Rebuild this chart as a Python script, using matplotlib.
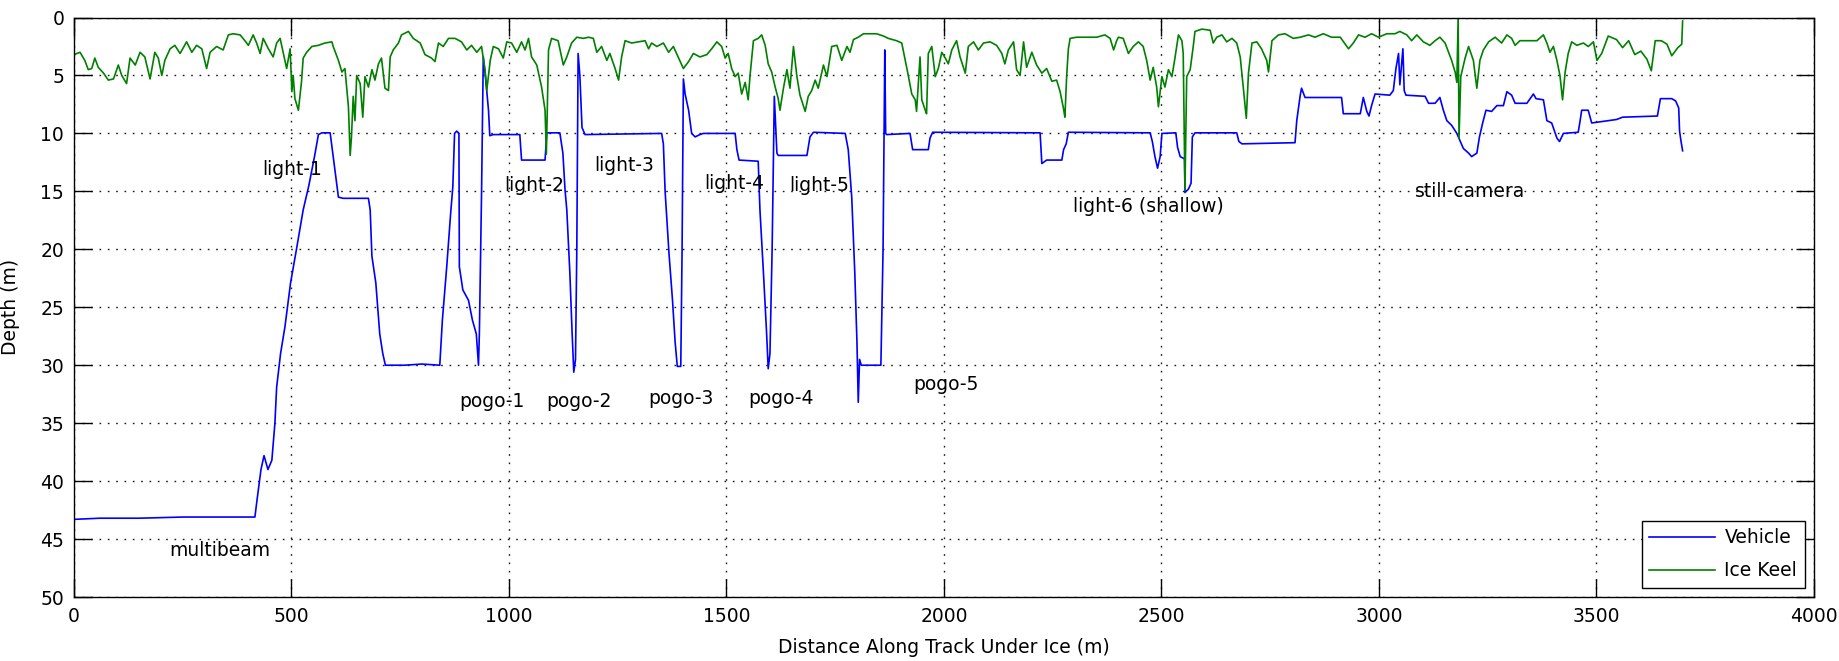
import matplotlib
matplotlib.use('Agg')
import matplotlib.pyplot as plt
import numpy as np

plt.rcParams['font.family'] = ['DejaVu Sans']
plt.rcParams['font.size'] = 13.5

# Vehicle depth along the under-ice track (m)
veh_dist = [0, 60, 150, 250, 416, 421, 430, 437, 446, 455, 462, 466, 475, 485, 498, 512, 527, 540, 553, 562,
            570, 589, 596, 608, 619, 677, 681, 685, 694, 703, 710, 716, 760, 800, 839, 841, 847, 857, 866, 871,
            875, 880, 885, 886, 894, 907, 916, 925, 930, 932, 937, 941, 946, 953, 956, 964, 1025, 1029, 1083, 1087,
            1117, 1124, 1129, 1133, 1140, 1145, 1149, 1153, 1156, 1159, 1163, 1168, 1175, 1351, 1355, 1359, 1368, 1376, 1382, 1387,
            1395, 1398, 1401, 1405, 1413, 1420, 1428, 1439, 1447, 1520, 1524, 1529, 1573, 1577, 1585, 1592, 1596, 1600, 1605, 1610,
            1616, 1619, 1685, 1692, 1700, 1773, 1780, 1788, 1795, 1800, 1803, 1806, 1810, 1855, 1860, 1864, 1866, 1868, 1922, 1928,
            1964, 1968, 1974, 2221, 2225, 2236, 2271, 2275, 2281, 2286, 2474, 2479, 2485, 2491, 2497, 2501, 2533, 2537, 2543, 2553,
            2554, 2562, 2568, 2571, 2577, 2673, 2678, 2685, 2807, 2811, 2819, 2822, 2830, 2914, 2918, 2957, 2964, 2972, 2977, 2983,
            2991, 3025, 3033, 3039, 3045, 3048, 3055, 3058, 3062, 3106, 3114, 3129, 3140, 3148, 3156, 3167, 3179, 3186, 3194, 3206,
            3213, 3225, 3231, 3239, 3246, 3259, 3271, 3286, 3294, 3305, 3313, 3340, 3355, 3361, 3378, 3386, 3397, 3409, 3415, 3424,
            3458, 3462, 3466, 3481, 3489, 3546, 3560, 3640, 3647, 3673, 3682, 3689, 3691, 3694, 3698]
veh_depth = [43.3, 43.2, 43.2, 43.1, 43.1, 41.6, 39.0, 37.8, 39.0, 38.2, 35.0, 31.9, 29.0, 26.7, 22.9, 19.9, 16.6, 14.5, 12.0, 10.1,
             9.95, 9.95, 12.0, 15.5, 15.6, 15.6, 16.6, 20.6, 22.9, 27.3, 29.0, 30.0, 30.0, 29.9, 30.0, 30.0, 26.1, 21.5, 16.9, 14.6,
             10.0, 9.8, 10.0, 21.5, 23.5, 24.4, 26.1, 27.3, 30.0, 27.3, 15.2, 3.4, 5.1, 8.0, 10.2, 10.1, 10.1, 12.3, 12.3, 9.95,
             9.95, 11.7, 14.9, 16.6, 22.0, 27.0, 30.6, 29.5, 20.0, 3.1, 5.0, 9.5, 10.1, 10.0, 10.9, 15.0, 20.4, 24.4, 28.0, 30.1,
             30.1, 20.0, 5.3, 6.6, 8.0, 10.0, 10.3, 10.1, 10.0, 10.0, 11.4, 12.3, 12.4, 16.6, 22.0, 27.0, 30.3, 29.0, 20.0, 6.8,
             11.7, 11.9, 11.9, 10.3, 9.9, 10.0, 11.4, 15.5, 22.0, 28.0, 33.2, 29.5, 30.0, 30.0, 20.0, 2.8, 10.0, 10.1, 10.0, 11.4,
             11.4, 10.4, 9.9, 9.95, 12.6, 12.3, 12.3, 11.4, 10.9, 9.9, 9.95, 10.7, 12.0, 13.0, 12.0, 10.0, 9.95, 11.2, 12.0, 12.2,
             15.1, 14.8, 14.3, 10.3, 9.95, 9.95, 10.7, 10.9, 10.8, 8.9, 6.7, 6.1, 6.9, 6.9, 8.3, 8.3, 6.9, 8.1, 8.5, 7.6,
             6.6, 6.7, 6.3, 4.4, 3.1, 5.8, 2.7, 6.3, 6.7, 6.8, 7.4, 7.4, 6.9, 8.0, 8.9, 9.3, 10.0, 10.6, 11.3, 11.7,
             12.0, 11.7, 10.3, 9.0, 8.0, 8.1, 7.6, 7.6, 6.4, 6.7, 7.4, 7.4, 6.6, 7.0, 7.1, 8.9, 9.1, 10.4, 10.7, 10.0,
             9.9, 9.0, 8.0, 8.0, 9.1, 8.8, 8.6, 8.5, 7.0, 7.0, 7.2, 7.8, 9.8, 10.6, 11.5]

# Ice keel draft along the same track (m)
keel_dist = [0, 14, 25, 33, 41, 48, 56, 68, 79, 91, 102, 110, 121, 129, 141, 152, 163, 175, 186, 194,
             202, 209, 221, 232, 244, 259, 271, 282, 294, 305, 313, 328, 343, 355, 366, 382, 393, 401, 412, 420,
             428, 435, 447, 458, 466, 474, 485, 489, 497, 501, 504, 508, 516, 523, 527, 535, 547, 562, 577, 593,
             596, 608, 616, 623, 631, 635, 638, 642, 646, 650, 658, 664, 669, 677, 685, 692, 700, 707, 715, 723,
             727, 734, 746, 753, 769, 780, 796, 807, 822, 830, 838, 849, 861, 876, 891, 903, 914, 926, 937, 941,
             945, 949, 957, 964, 976, 987, 995, 1006, 1018, 1029, 1037, 1045, 1052, 1064, 1075, 1083, 1086, 1091, 1098, 1113,
             1125, 1133, 1144, 1156, 1171, 1183, 1194, 1202, 1213, 1225, 1232, 1244, 1252, 1259, 1267, 1282, 1298, 1313, 1321, 1328,
             1340, 1355, 1367, 1378, 1390, 1401, 1413, 1424, 1439, 1455, 1466, 1478, 1489, 1497, 1504, 1512, 1520, 1527, 1535, 1543,
             1550, 1554, 1562, 1573, 1581, 1589, 1596, 1604, 1612, 1619, 1623, 1631, 1639, 1646, 1654, 1662, 1669, 1681, 1688, 1696,
             1704, 1711, 1723, 1731, 1742, 1754, 1765, 1777, 1784, 1792, 1803, 1815, 1830, 1845, 1861, 1872, 1891, 1903, 1911, 1918,
             1926, 1934, 1937, 1945, 1949, 1957, 1960, 1964, 1972, 1980, 1987, 1995, 2003, 2010, 2018, 2029, 2037, 2049, 2056, 2068,
             2079, 2091, 2106, 2121, 2133, 2140, 2148, 2160, 2167, 2175, 2183, 2190, 2202, 2213, 2225, 2236, 2248, 2259, 2267, 2275,
             2278, 2282, 2286, 2290, 2305, 2328, 2351, 2370, 2382, 2390, 2397, 2401, 2412, 2424, 2435, 2447, 2458, 2466, 2474, 2481,
             2489, 2493, 2501, 2508, 2516, 2524, 2531, 2539, 2547, 2550, 2554, 2558, 2566, 2573, 2577, 2593, 2612, 2619, 2627, 2639,
             2650, 2662, 2673, 2681, 2688, 2695, 2700, 2708, 2719, 2730, 2742, 2746, 2754, 2769, 2784, 2803, 2819, 2838, 2853, 2872,
             2891, 2911, 2930, 2941, 2953, 2968, 2983, 2999, 3018, 3037, 3048, 3064, 3075, 3087, 3102, 3117, 3129, 3140, 3152, 3160,
             3167, 3175, 3179, 3182, 3184, 3188, 3198, 3206, 3217, 3225, 3232, 3240, 3252, 3267, 3282, 3294, 3305, 3313, 3324, 3344,
             3363, 3378, 3386, 3393, 3401, 3409, 3416, 3422, 3428, 3435, 3443, 3455, 3470, 3481, 3493, 3501, 3512, 3527, 3546, 3560,
             3574, 3588, 3602, 3616, 3626, 3635, 3649, 3662, 3673, 3687, 3696, 3698]
keel_depth = [3.2, 3.0, 3.7, 4.5, 4.4, 3.5, 4.3, 4.8, 5.4, 5.3, 4.1, 5.0, 5.7, 3.5, 4.1, 3.0, 3.4, 5.3, 3.0, 3.5,
              5.0, 3.7, 2.7, 2.4, 3.1, 2.1, 3.0, 2.4, 2.7, 4.4, 3.0, 2.5, 2.8, 1.5, 1.4, 1.5, 2.0, 2.4, 1.5, 2.2,
              3.1, 1.8, 2.7, 3.4, 2.2, 1.8, 3.7, 4.4, 2.7, 6.4, 5.0, 7.0, 8.0, 5.6, 3.5, 3.0, 2.5, 2.4, 2.2, 2.1,
              2.5, 3.7, 4.7, 4.4, 7.7, 11.9, 10.3, 6.8, 8.9, 5.0, 5.7, 8.6, 5.1, 6.0, 4.5, 5.4, 4.0, 3.5, 6.1, 6.3,
              3.4, 2.8, 2.2, 1.5, 1.2, 1.8, 2.2, 3.2, 3.5, 3.8, 2.2, 2.5, 1.8, 1.8, 2.1, 2.8, 2.4, 3.0, 2.5, 3.5,
              4.5, 6.3, 3.7, 2.5, 2.7, 3.5, 2.1, 2.2, 3.0, 2.1, 2.8, 1.8, 3.4, 4.1, 6.0, 8.0, 11.8, 2.8, 1.8, 2.0,
              4.1, 3.4, 2.2, 1.7, 1.8, 1.7, 1.8, 3.0, 2.5, 3.7, 3.1, 4.4, 5.4, 3.4, 2.0, 2.2, 2.1, 2.0, 2.7, 2.2,
              2.5, 2.2, 3.0, 2.5, 3.5, 4.4, 3.8, 3.1, 3.4, 3.2, 2.7, 2.1, 2.5, 3.5, 3.1, 4.4, 5.1, 4.8, 6.6, 5.6,
              7.1, 5.1, 2.0, 1.8, 1.5, 2.4, 4.0, 4.7, 6.0, 7.0, 8.0, 6.1, 4.5, 6.1, 2.5, 5.1, 6.7, 8.1, 6.8, 6.3,
              5.4, 6.1, 4.1, 5.1, 2.5, 2.4, 3.7, 2.5, 3.0, 1.9, 1.7, 1.4, 1.4, 1.4, 1.6, 1.8, 2.0, 2.2, 3.7, 5.0,
              6.6, 7.1, 8.1, 3.4, 7.1, 8.0, 8.3, 3.1, 2.5, 5.1, 4.4, 3.0, 3.5, 4.0, 2.8, 2.0, 3.4, 4.8, 2.5, 2.1,
              2.8, 2.2, 2.1, 2.4, 3.1, 4.0, 2.8, 2.1, 4.5, 5.0, 2.1, 4.3, 3.0, 4.1, 4.8, 4.4, 5.5, 5.4, 6.4, 7.9,
              8.6, 5.1, 2.7, 1.8, 1.7, 1.7, 1.7, 1.5, 1.8, 2.8, 2.0, 1.7, 1.8, 3.1, 2.5, 2.1, 2.5, 3.7, 5.4, 4.3,
              6.0, 7.7, 5.1, 6.0, 4.5, 5.1, 3.5, 1.5, 2.0, 3.1, 14.9, 5.1, 4.5, 2.5, 1.2, 1.0, 1.1, 2.2, 1.7, 1.5,
              2.1, 1.8, 2.2, 3.4, 6.0, 8.7, 4.8, 2.2, 2.1, 2.7, 3.7, 4.7, 2.0, 1.5, 1.4, 1.8, 1.7, 1.5, 1.7, 1.4,
              1.7, 1.7, 2.7, 2.2, 1.5, 1.7, 1.4, 1.7, 1.4, 1.4, 1.2, 1.5, 2.0, 1.5, 2.1, 2.4, 2.0, 1.7, 2.2, 3.0,
              3.7, 4.7, 5.6, 0.0, 10.4, 5.1, 3.5, 2.5, 3.7, 6.1, 3.7, 2.8, 2.1, 1.7, 2.2, 1.5, 1.8, 2.4, 2.0, 2.0,
              2.0, 1.5, 2.2, 3.0, 2.5, 3.7, 5.0, 7.1, 4.7, 3.1, 2.1, 2.4, 2.2, 2.5, 2.1, 3.7, 3.1, 1.6, 1.9, 2.6,
              2.0, 3.2, 2.9, 3.6, 4.6, 2.0, 2.0, 2.3, 3.3, 2.6, 2.3, 0.3]

# Mission segment labels
seg_labels = ['multibeam', 'light-1', 'pogo-1', 'light-2', 'pogo-2', 'light-3', 'pogo-3', 'light-4',
              'pogo-4', 'light-5', 'pogo-5', 'light-6 (shallow)', 'still-camera']
seg_x = [218, 433, 886, 990, 1085, 1196, 1320, 1449, 1550, 1644, 1929, 2296, 3083]
seg_y = [46.0, 13.1, 33.1, 14.5, 33.1, 12.8, 32.9, 14.3, 32.9, 14.5, 31.7, 16.3, 15.0]

fig = plt.figure(figsize=(18.39, 6.61), dpi=100)
ax = fig.add_axes([0.0402, 0.0968, 0.9462, 0.8767])

ax.plot(veh_dist, veh_depth, color='#0000ff', lw=1.2, label='Vehicle')
ax.plot(keel_dist, keel_depth, color='#008000', lw=1.2, label='Ice Keel')

for lbl, x, y in zip(seg_labels, seg_x, seg_y):
    ax.text(x, y, lbl, ha='left', va='center')

ax.set_xlim(0, 4000)
ax.set_ylim(50, 0)
ax.set_xticks(np.arange(0, 4001, 500))
ax.set_yticks(np.arange(0, 51, 5))
ax.grid(True, color='0.1', linestyle=(0, (1.2, 4.8)), linewidth=1.0)
ax.tick_params(direction='in', length=13, width=1.0, top=True, right=True, pad=7)
for sp in ax.spines.values():
    sp.set_linewidth(1.0)

ax.set_xlabel('Distance Along Track Under Ice (m)')
ax.set_ylabel('Depth (m)')
ax.xaxis.set_label_coords(0.5, -0.07)
ax.yaxis.set_label_coords(-0.031, 0.5)

leg = ax.legend(loc='lower right', fancybox=False, framealpha=1, edgecolor='black',
                handlelength=3.5, handletextpad=0.5, labelspacing=0.75, borderpad=0.4,
                borderaxespad=0.5)
leg.get_frame().set_linewidth(1.0)

fig.savefig('out.png', dpi=100)
